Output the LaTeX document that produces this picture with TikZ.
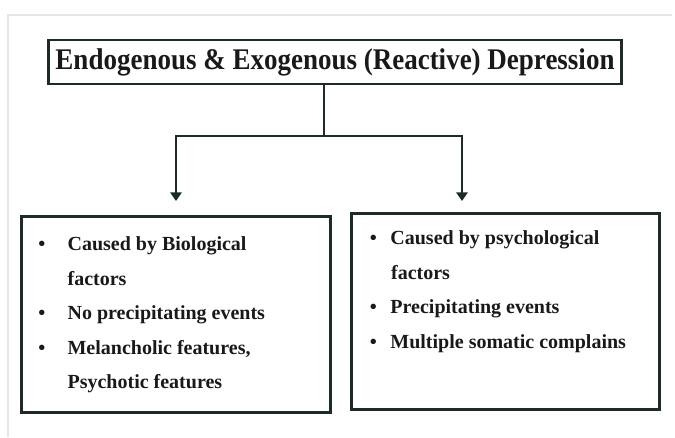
\documentclass[tikz,border=0pt]{standalone}
\usepackage{fontspec}
\setmainfont{Liberation Serif}
\newfontfamily\headfont[FakeStretch=0.9]{Liberation Serif}
\usetikzlibrary{arrows.meta,calc}
\definecolor{ink}{RGB}{28,42,42}
\definecolor{frameline}{RGB}{226,231,231}
\newcommand{\bul}[1]{\makebox[#1][l]{\textbullet}}
\begin{document}
\begin{tikzpicture}[
  x=0.75pt, y=-0.75pt,
  titlebox/.style={draw=ink, line width=1.9pt, minimum width=430pt, minimum height=33pt,
    inner sep=0pt, font=\headfont\bfseries\fontsize{22.5}{26}\selectfont, text=black!90},
  listbox/.style={draw=ink, line width=1.9pt, minimum width=232pt, minimum height=147pt,
    inner sep=0pt, anchor=north west},
  listtext/.style={anchor=north west, align=left, inner sep=0pt,
    font=\bfseries\fontsize{15}{25.9}\selectfont, text=black!90},
  link/.style={ink, line width=1.6pt},
  arrow/.style={link, -{Triangle[width=8.5pt, length=6.5pt]}}
]
  \useasboundingbox (0,0) rectangle (675,437);

  % faint page frame
  \draw[frameline, line width=1.2pt] (8,437) -- (8,15) -- (672,15);

  % heading
  \node[titlebox] (title) at (335,62) {Endogenous \& Exogenous (Reactive) Depression};

  % the two lists
  \node[listbox] (bio) at (20,215) {};
  \node[listbox, minimum width=231pt] (psy) at (350,212) {};

  \node[listtext] (biotext) at ($(bio.north west)+(18,21.5)$)
    {\bul{22pt}Caused by Biological\\
     \hspace*{22pt}factors\\
     \bul{22pt}No precipitating events\\
     \bul{22pt}Melancholic features,\\
     \hspace*{22pt}Psychotic features};
  \node[listtext] (psytext) at ($(psy.north west)+(19.5,18.5)$)
    {\bul{15.5pt}Caused by psychological\\
     \hspace*{16pt}factors\\
     \bul{15.5pt}Precipitating events\\
     \bul{15.5pt}Multiple somatic complains};

  % fork from heading down to both lists
  \coordinate (fork) at (324,136);
  \coordinate (bioin) at (176,201);
  \coordinate (psyin) at (462,201);
  \draw[link] (title.south -| fork) -- (fork);
  \draw[arrow] (fork) -| (bioin);
  \draw[arrow] (fork) -| (psyin);
\end{tikzpicture}
\end{document}
